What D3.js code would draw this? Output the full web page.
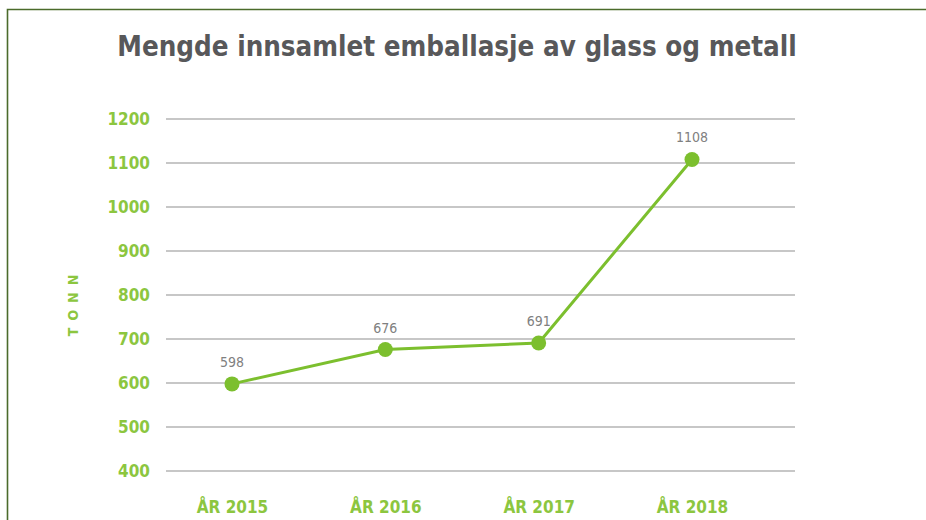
<!DOCTYPE html>
<html>
<head>
<meta charset="utf-8">
<script src="https://cdn.jsdelivr.net/npm/d3@7"></script>
<style>
  body { margin: 0; background: #fff; }
  svg text { font-family: "DejaVu Sans Condensed", "DejaVu Sans", sans-serif; }
</style>
</head>
<body>
<svg id="vis"></svg>
<script>
// size of the picture
const width = 926;
const height = 520;

// data
const years = ["ÅR 2015", "ÅR 2016", "ÅR 2017", "ÅR 2018"];
const tonn = [598, 676, 691, 1108];
const yTicks = [400, 500, 600, 700, 800, 900, 1000, 1100, 1200];

const title = "Mengde innsamlet emballasje av glass og metall";
const yTitle = "TONN";

const green = "#7cbf2e";
const labelGreen = "#8cc63f";

const svg = d3.select("#vis")
    .attr("width", width)
    .attr("height", height);

svg.append("rect").attr("width", width).attr("height", height).attr("fill", "#fff");

// dark green frame, top and left edges
svg.append("path")
    .attr("d", "M7.5," + height + " V9.5 H" + width)
    .attr("fill", "none")
    .attr("stroke", "#4b6b2b")
    .attr("stroke-width", 1.6);

// scales, grid from ~165 to ~795, 1200 at y 119, 400 at y 471
const xScale = d3.scalePoint()
    .domain(years)
    .range([232, 692]);

const yScale = d3.scaleLinear()
    .domain([400, 1200])
    .range([471, 119]);

// title
svg.append("text")
    .attr("x", 457).attr("y", 56)
    .attr("text-anchor", "middle")
    .attr("font-size", 27.5)
    .attr("font-weight", "bold")
    .attr("fill", "#58585a")
    .text(title);

// gridlines
svg.append("g")
    .selectAll("line")
    .data(yTicks)
    .join("line")
    .attr("x1", 166).attr("x2", 795)
    .attr("y1", d => yScale(d)).attr("y2", d => yScale(d))
    .attr("stroke", "#b5b5b5")
    .attr("stroke-width", 1.3);

// y axis
const yAxis = d3.axisLeft(yScale).tickValues(yTicks).tickFormat(d3.format("d"))
    .tickSize(0).tickPadding(0);
const gy = svg.append("g").attr("transform", "translate(150,0)").call(yAxis);
gy.select(".domain").remove();
gy.selectAll("text")
    .attr("font-size", 17)
    .attr("font-weight", "bold")
    .attr("fill", labelGreen)
    .attr("font-family", "\"DejaVu Sans Condensed\", sans-serif");

// x axis
const xAxis = d3.axisBottom(xScale).tickSize(0).tickPadding(0);
const gx = svg.append("g").attr("transform", "translate(0,501)").call(xAxis);
gx.select(".domain").remove();
gx.selectAll("text")
    .attr("font-size", 17)
    .attr("font-weight", "bold")
    .attr("fill", labelGreen)
    .attr("font-family", "\"DejaVu Sans Condensed\", sans-serif");

// y axis title, rotated
svg.append("text")
    .attr("transform", "translate(78,302) rotate(-90)")
    .attr("text-anchor", "middle")
    .attr("font-size", 14)
    .attr("font-weight", "bold")
    .attr("letter-spacing", 7)
    .attr("fill", labelGreen)
    .text(yTitle);

// the line
const line = d3.line()
    .x((d, i) => xScale(years[i]))
    .y(d => yScale(d));

svg.append("path")
    .datum(tonn)
    .attr("d", line)
    .attr("fill", "none")
    .attr("stroke", green)
    .attr("stroke-width", 3);

svg.append("g")
    .selectAll("circle")
    .data(tonn)
    .join("circle")
    .attr("cx", (d, i) => xScale(years[i]))
    .attr("cy", d => yScale(d))
    .attr("r", 7.5)
    .attr("fill", green);

// value labels
svg.append("g")
    .selectAll("text")
    .data(tonn)
    .join("text")
    .attr("x", (d, i) => xScale(years[i]))
    .attr("y", d => yScale(d) - 17)
    .attr("text-anchor", "middle")
    .attr("font-size", 14)
    .attr("fill", "#808080")
    .text(d => d);
</script>
</body>
</html>
